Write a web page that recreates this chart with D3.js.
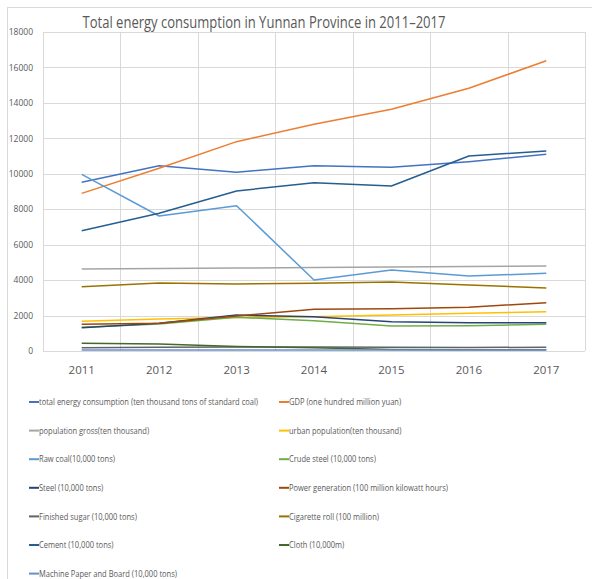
<!DOCTYPE html>
<html lang="en">
<head>
  <meta charset="UTF-8">
  <title>Total energy consumption in Yunnan Province</title>
  <script src="https://cdn.jsdelivr.net/npm/d3@7"></script>
  <style>
    body { margin: 0; background: #fff; }
    text { font-family: "Open Sans", sans-serif; fill: #595959; }
    .grid line { stroke: #d9d9d9; stroke-width: 1px; }
  </style>
</head>
<body>
<svg width="592" height="579"></svg>
<script>
// values
var years = ["2011", "2012", "2013", "2014", "2015", "2016", "2017"];

var energy     = [9520, 10457, 10085, 10457, 10364, 10683, 11098];
var gdp        = [8893, 10310, 11812, 12793, 13639, 14824, 16381];
var population = [4620, 4650, 4680, 4710, 4740, 4770, 4790];
var urban      = [1674, 1806, 1897, 1937, 2031, 2126, 2219];
var rawCoal    = [9970, 7618, 8200, 4006, 4571, 4232, 4383];
var crudeSteel = [1336, 1523, 1900, 1712, 1411, 1430, 1505];
var steel      = [1317, 1561, 2031, 1937, 1655, 1599, 1599];
var power      = [1505, 1561, 1975, 2351, 2389, 2464, 2727];
var sugar      = [190, 210, 230, 230, 210, 200, 209];
var cigarette  = [3630, 3837, 3781, 3818, 3894, 3724, 3555];
var cement     = [6789, 7770, 9029, 9497, 9311, 11004, 11286];
var cloth      = [433, 395, 250, 190, 90, 70, 70];
var paper      = [55, 58, 60, 55, 50, 52, 56];

var seriesNames = [
  "total energy consumption (ten thousand tons of standard coal)",
  "GDP (one hundred million yuan)",
  "population gross(ten thousand)",
  "urban population(ten thousand)",
  "Raw coal(10,000 tons)",
  "Crude steel (10,000 tons)",
  "Steel (10,000 tons)",
  "Power generation (100 million kilowatt hours)",
  "Finished sugar (10,000 tons)",
  "Cigarette roll (100 million)",
  "Cement (10,000 tons)",
  "Cloth (10,000m)",
  "Machine Paper and Board (10,000 tons)"
];
var seriesValues = [energy, gdp, population, urban, rawCoal, crudeSteel, steel,
                    power, sugar, cigarette, cement, cloth, paper];
var yTicks = d3.range(0, 18001, 2000);

var colors = ["#4472C4", "#ED7D31", "#A5A5A5", "#FFC000", "#5B9BD5", "#70AD47",
              "#264478", "#9E480E", "#636363", "#997300", "#255E91", "#43682B", "#698ED0"];

var series = seriesNames.map(function(name, i) {
  return { name: name, color: colors[i], values: seriesValues[i] };
});

var svg = d3.select("svg");

var plot = { left: 43, right: 585, top: 32, bottom: 351 };

var x = d3.scaleBand().domain(years).range([plot.left, plot.right]);
var y = d3.scaleLinear().domain([0, 18000]).range([plot.bottom, plot.top]);

// outer chart border
svg.append("rect")
    .attr("x", 7.5).attr("y", 7.5)
    .attr("width", 600).attr("height", 600)
    .attr("fill", "none")
    .attr("stroke", "#d9d9d9");

// title (squeezed horizontally to get the narrow look of the original)
svg.append("text")
    .attr("transform", "translate(264,28) scale(0.79,1)")
    .attr("text-anchor", "middle")
    .style("font-size", "16.5px")
    .text("Total energy consumption in Yunnan Province in 2011\u20132017");

// gridlines
var grid = svg.append("g").attr("class", "grid");
grid.selectAll("line.h")
    .data(yTicks)
    .enter().append("line")
      .attr("class", "h")
      .attr("x1", plot.left).attr("x2", plot.right)
      .attr("y1", function(d) { return Math.round(y(d)) + 0.5; })
      .attr("y2", function(d) { return Math.round(y(d)) + 0.5; });

var bounds = years.map(function(d) { return x(d); }).concat([plot.right]);
grid.selectAll("line.v")
    .data(bounds)
    .enter().append("line")
      .attr("class", "v")
      .attr("x1", function(d) { return Math.round(d) + 0.5; })
      .attr("x2", function(d) { return Math.round(d) + 0.5; })
      .attr("y1", plot.top).attr("y2", plot.bottom);

// axes
var yAxis = svg.append("g")
    .attr("transform", "translate(" + plot.left + ",0)")
    .call(d3.axisLeft(y).tickValues(yTicks).tickSize(0).tickPadding(10).tickFormat(d3.format("d")));
yAxis.select(".domain").remove();
yAxis.selectAll("text").style("font-size", "8.5px").style("font-family", "'Open Sans', sans-serif").attr("fill", "#595959");

var xAxis = svg.append("g")
    .attr("transform", "translate(0," + plot.bottom + ")")
    .call(d3.axisBottom(x).tickSize(0).tickPadding(15));
xAxis.select(".domain").remove();
xAxis.selectAll("text").style("font-size", "11.5px").style("font-family", "'Open Sans', sans-serif").attr("fill", "#595959");

// lines
var line = d3.line()
    .x(function(d, i) { return x(years[i]) + x.bandwidth() / 2; })
    .y(function(d) { return y(d); });

svg.append("g")
  .selectAll("path")
  .data(series)
  .enter().append("path")
    .attr("fill", "none")
    .attr("stroke", function(d) { return d.color; })
    .attr("stroke-width", 1.5)
    .attr("stroke-linejoin", "round")
    .attr("d", function(d) { return line(d.values); });

// legend, two columns
var legend = svg.append("g")
  .selectAll("g")
  .data(series)
  .enter().append("g")
    .attr("transform", function(d, i) {
      var col = i % 2, row = Math.floor(i / 2);
      return "translate(" + (29 + col * 250) + "," + (402 + row * 28.6) + ")";
    });

legend.append("line")
    .attr("x1", 0).attr("x2", 10)
    .attr("stroke", function(d) { return d.color; })
    .attr("stroke-width", 2);

legend.append("text")
    .attr("transform", "translate(10,0) scale(0.836,1)")
    .attr("dy", "0.35em")
    .style("font-size", "9px")
    .text(function(d) { return d.name; });
</script>
</body>
</html>
